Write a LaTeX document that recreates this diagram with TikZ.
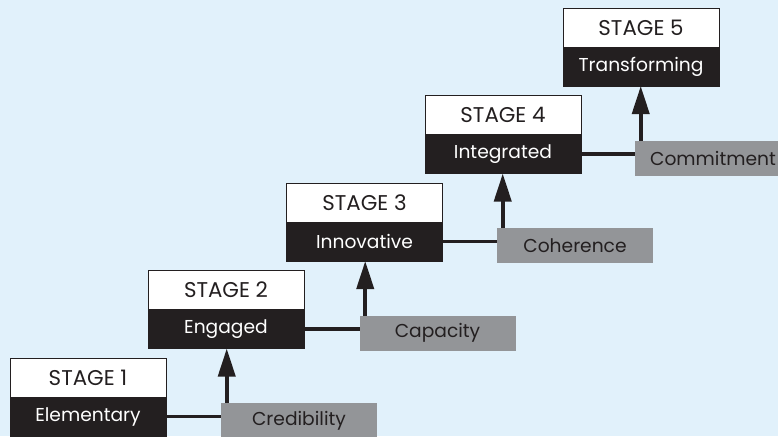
\documentclass[tikz,border=0pt]{standalone}
\usepackage{fontspec}
\setmainfont{Poppins}
\usetikzlibrary{arrows.meta}
\definecolor{bg}{RGB}{225,241,251}
\definecolor{gry}{RGB}{147,149,152}
\definecolor{blk}{RGB}{35,31,32}
\begin{document}
\begin{tikzpicture}[x=0.75pt,y=-0.75pt,
  txt/.style={font=\fontsize{14}{17}\selectfont},
  captxt/.style={font=\fontsize{16}{18}\selectfont},
  stagetop/.style={captxt, draw=blk, line width=0.6pt, fill=white, text=blk, minimum width=117pt, minimum height=29.25pt, inner sep=0pt, outer sep=0pt, anchor=north west},
  stagename/.style={stagetop, txt, fill=blk, text=white, anchor=north},
  factor/.style={txt, fill=gry, text=blk, minimum width=117pt, minimum height=26.6pt, inner sep=0pt, outer sep=0pt, anchor=north west},
  link/.style={draw=blk, line width=2.8pt},
  rise/.style={link, -{Triangle[length=21pt,width=12.75pt]}}]
\useasboundingbox (0,0) rectangle (778,436);
\fill[bg] (0,0) rectangle (778,436);
% stages
\node[stagetop] (s1) at (10,358) {STAGE 1};
\node[stagename] (n1) at (s1.south) {Elementary};
\node[stagetop] (s2) at (148,270.5) {STAGE 2};
\node[stagename] (n2) at (s2.south) {Engaged};
\node[stagetop] (s3) at (286.5,183) {STAGE 3};
\node[stagename] (n3) at (s3.south) {Innovative};
\node[stagetop] (s4) at (425,95.5) {STAGE 4};
\node[stagename] (n4) at (s4.south) {Integrated};
\node[stagetop] (s5) at (563,8) {STAGE 5};
\node[stagename] (n5) at (s5.south) {Transforming};
% factors
\node[factor] (f1) at (221,403) {Credibility};
\node[factor] (f2) at (359.5,315.5) {Capacity};
\node[factor] (f3) at (497,228) {Coherence};
\node[factor] (f4) at (635,140.5) {Commitment};
% connectors
\foreach \i/\j in {1/2,2/3,3/4,4/5}{
  \draw[link] (n\i.east) -- (n\i.east -| f\i.west);
  \coordinate (a\i) at ([xshift=4.3pt]f\i.north west);
  \draw[rise] (a\i) -- (a\i |- n\j.south);
}
\end{tikzpicture}
\end{document}
